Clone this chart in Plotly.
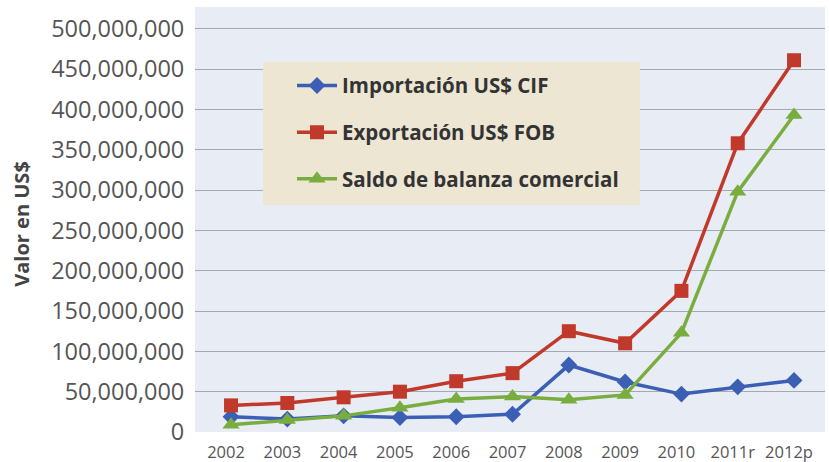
import plotly.graph_objects as go

years = ["2002", "2003", "2004", "2005", "2006", "2007", "2008", "2009", "2010", "2011r", "2012p"]
importacion = [19e6, 16e6, 20e6, 18e6, 19e6, 22e6, 83e6, 62e6, 47e6, 56e6, 64e6]
exportacion = [33e6, 36e6, 43e6, 50e6, 63e6, 73e6, 125e6, 110e6, 175e6, 358e6, 461e6]
saldo = [9e6, 15e6, 20e6, 30e6, 41e6, 44e6, 40e6, 46e6, 123e6, 298e6, 393e6]
ytick_vals = [0, 50e6, 100e6, 150e6, 200e6, 250e6, 300e6, 350e6, 400e6, 450e6, 500e6]
ytick_text = ["0", "50,000,000", "100,000,000", "150,000,000", "200,000,000", "250,000,000",
              "300,000,000", "350,000,000", "400,000,000", "450,000,000", "500,000,000"]
series_names = ["Importación US$ CIF", "Exportación US$ FOB", "Saldo de balanza comercial"]

xs = list(range(len(years)))

fig = go.Figure()
series = [
    (series_names[0], importacion, "#3a5fb4", "diamond", 13),
    (series_names[1], exportacion, "#c0392b", "square", 14),
    (series_names[2], saldo, "#7aad3f", "triangle-up", 15),
]
for i, (name, vals, col, sym, sz) in enumerate(series):
    fig.add_trace(go.Scatter(
        x=xs, y=vals, name=f"<b>{name}</b>", mode="lines+markers",
        line=dict(color=col, width=3.5),
        marker=dict(symbol=sym, size=sz, color=col),
        legendgroup=f"g{i}",
    ))

# legend background box
fig.add_shape(type="rect", xref="paper", yref="paper",
              x0=0.108, x1=0.706, y0=0.534, y1=0.871,
              fillcolor="#ece6d3", line=dict(width=0), layer="above")

fig.add_annotation(text="<b>Valor en US$</b>", xref="paper", yref="paper",
                   x=-0.2746, y=0.49, xanchor="center", yanchor="middle",
                   textangle=-90, showarrow=False,
                   font=dict(size=20, color="#444444", family="Open Sans"))

fig.update_layout(
    width=829, height=462,
    margin=dict(l=195, r=4, t=7, b=30, autoexpand=False),
    paper_bgcolor="white",
    plot_bgcolor="#e8ecf4",
    font=dict(family="Open Sans", color="#555555"),
    xaxis=dict(
        range=[-0.64, 10.55], tickvals=xs, ticktext=years,
        showgrid=False, zeroline=False, showline=False, automargin=False,
        tickfont=dict(size=16.5, color="#555555"), ticks="outside", ticklen=5,
        tickcolor="rgba(0,0,0,0)", ticklabelshift=-5,
    ),
    yaxis=dict(
        range=[0, 527e6], tickvals=ytick_vals, ticktext=ytick_text,
        showgrid=True, gridcolor="#a4a9b0", gridwidth=1, zeroline=False, automargin=False,
        tickfont=dict(size=23.5, color="#555555"), ticks="outside", ticklen=5,
        tickcolor="rgba(0,0,0,0)",
    ),
    legend=dict(
        x=(292 - 195) / 630, y=0.862, xanchor="left", yanchor="top",
        bgcolor="rgba(0,0,0,0)", borderwidth=0,
        font=dict(size=20.5, color="#333333", family="Open Sans"),
        tracegroupgap=17, itemwidth=40,
    ),
    showlegend=True,
)

fig.write_html("out.html", post_script="document.body.style.margin='0';",
               config={"displayModeBar": False})
